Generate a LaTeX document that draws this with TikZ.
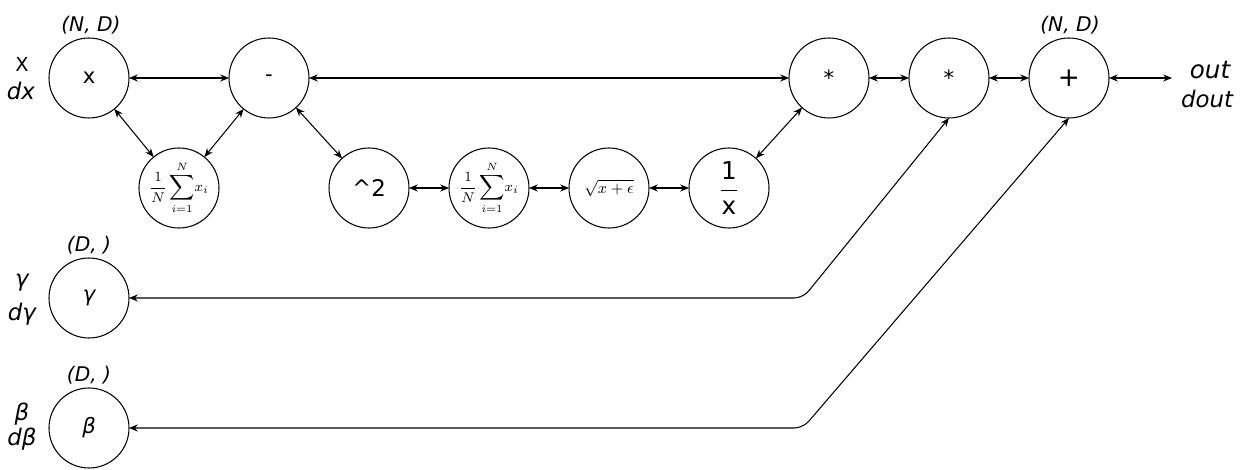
\documentclass[tikz,border=0pt]{standalone}
\usepackage{fontspec}
\setmainfont{DejaVu Sans}
\usepackage{tikz}
\usepackage{tkz-graph}
\usetikzlibrary{arrows.meta}

\newcommand{\meanop}{{\fontsize{8}{9}\selectfont$\displaystyle\frac{1}{N}\sum_{i=1}^{N}\!x_i$}}
\newcommand{\rootop}{{\fontsize{9.5}{11}\selectfont$\sqrt{x+\epsilon}$}}
\newcommand{\invop}{{\fontsize{14}{16}\selectfont$\displaystyle\frac{\hbox{1}}{\hbox{x}}$}}

\begin{document}
\begin{tikzpicture}[>={Stealth[length=5pt,width=4pt]},
  shapelbl/.style={font=\itshape\fontsize{11.5}{13}\selectfont},
  varlbl/.style={font=\itshape\fontsize{13}{15}\selectfont}]
\useasboundingbox (0,0) rectangle (24.88,9.38);
            % Vertices
\SetVertexNormal[LineWidth=0.6pt]%
\tikzset{VertexStyle/.append style={minimum size=1.6cm,inner sep=0pt,
  font=\fontsize{12}{14}\selectfont}}
\tikzset{EdgeStyle/.style={<->,line width=0.6pt}}
\Vertex[x=1.78 ,y=7.82,L=x]{xin}
\Vertex[x=5.38 ,y=7.82,L=-]{minus}
\Vertex[x=3.58 ,y=5.62,L=\meanop]{meanA}
\Vertex[x=7.38 ,y=5.62,L={\fontsize{13}{15}\selectfont \^{}2}]{sq}
\Vertex[x=9.78 ,y=5.62,L=\meanop]{meanB}
\Vertex[x=12.18,y=5.62,L=\rootop]{root}
\Vertex[x=14.58,y=5.62,L=\invop]{inv}
\Vertex[x=16.58,y=7.82,L=*]{mulA}
\Vertex[x=18.98,y=7.82,L=*]{mulB}
\Vertex[x=21.38,y=7.82,L={\fontsize{15}{17}\selectfont +}]{plus}
\Vertex[x=1.78 ,y=3.42,L={\itshape γ}]{gam}
\Vertex[x=1.78 ,y=0.82,L={\itshape β}]{bet}
%Labels
\node[shapelbl] (xshape) at (1.82,8.88) {(N, D)};
\node[shapelbl] (plusshape) at (21.40,8.88) {(N, D)};
\node[shapelbl] (gamshape) at (1.78,4.48) {(D, )};
\node[shapelbl] (betshape) at (1.78,1.88) {(D, )};
\node[font=\fontsize{11}{13}\selectfont] (xname) at (0.44,8.10) {X};
\node[varlbl] (xgrad) at (0.42,7.56) {dx};
\node[varlbl] (gamname) at (0.44,3.72) {γ};
\node[varlbl] (gamgrad) at (0.44,3.10) {dγ};
\node[varlbl] (betname) at (0.44,1.10) {β};
\node[varlbl] (betgrad) at (0.44,0.60) {dβ};
\node[varlbl,font=\itshape\fontsize{14}{16}\selectfont] (outname) at (24.20,7.98) {out};
\node[varlbl] (outgrad) at (24.14,7.40) {dout};
\coordinate (outend) at (23.44,7.82);
\coordinate (gambend) at (16.06,3.42);
\coordinate (betbend) at (16.06,0.82);
%Mean and variance
\Edge(xin)(minus)
\Edge(xin)(meanA)
\Edge(minus)(meanA)
\Edge(minus)(sq)
\Edge(sq)(meanB)
\Edge(meanB)(root)
\Edge(root)(inv)
\Edge(inv)(mulA)
%Scale and shift
\Edge(minus)(mulA)
\Edge(mulA)(mulB)
\Edge(mulB)(plus)
\draw[EdgeStyle] (plus) -- (outend);
\draw[EdgeStyle,rounded corners=5pt] (gam) -- (gambend) -- (mulB.south);
\draw[EdgeStyle,rounded corners=5pt] (bet) -- (betbend) -- (plus.south);

          \end{tikzpicture}
\end{document}
